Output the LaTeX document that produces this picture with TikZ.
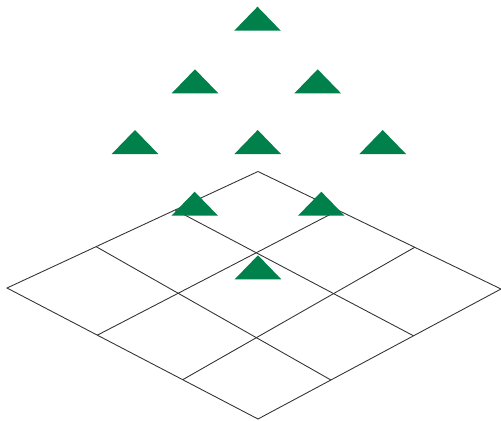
\documentclass[tikz,border=0pt]{standalone}
\usepackage{tikz}
\usetikzlibrary{calc}

\definecolor{treegreen}{RGB}{0,128,74}

\begin{document}
\begin{tikzpicture}[
        x=0.02cm, y=-0.02cm,
        gridline/.style={line width=0.5pt, draw=black!80},
        tree/.style={fill=treegreen, draw=none}
    ]
    \useasboundingbox (0,0) rectangle (501,420);

    % Corners of the floor
    \coordinate (T) at (258,171.5);
    \coordinate (L) at (7,288);
    \coordinate (R) at (501,289);
    \coordinate (B) at (258,419);

    % Floor grid
    \draw[gridline] (T) -- (R) -- (B) -- (L) -- cycle;
    \foreach \a/\b in {0.33/0.36, 0.645/0.70} {
        \draw[gridline] ($(T)!\a!(L)$) -- ($(R)!\b!(B)$);
        \draw[gridline] ($(T)!\a!(R)$) -- ($(L)!\b!(B)$);
    }

    % Trees
    \foreach \x/\y in {257.5/30.7, 195/93.3, 317.7/93.3, 135/154, 257.7/154,
                       382.7/154, 194.7/215.7, 321.3/215.7, 258/279.3} {
        \fill[tree] (\x-23.3,\y) -- (\x,\y-24) -- (\x+23.3,\y) -- cycle;
    }

    \end{tikzpicture}
\end{document}
